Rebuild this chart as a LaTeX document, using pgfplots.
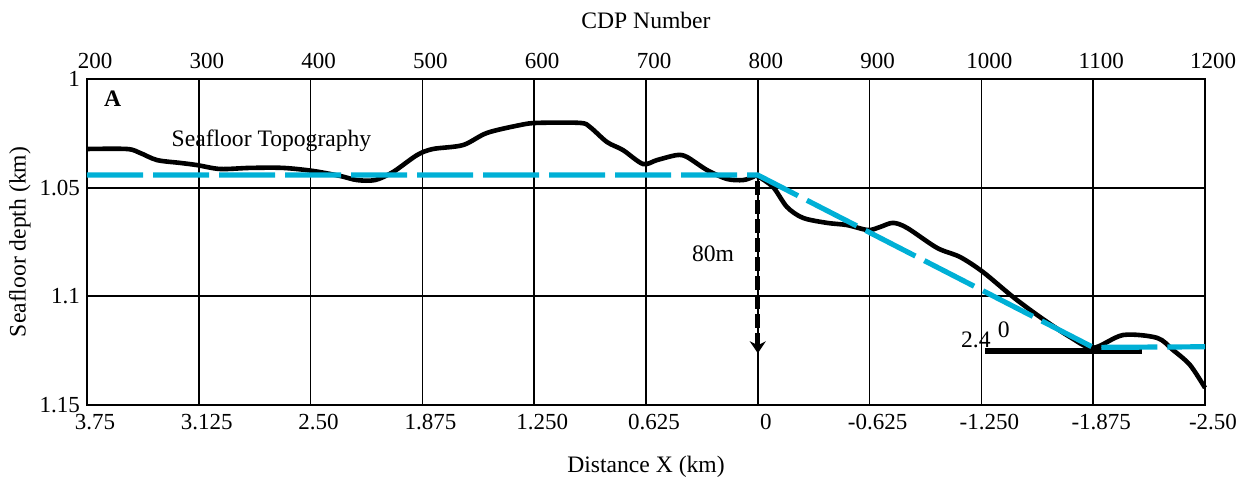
\documentclass[border=0pt]{standalone}
\usepackage{fontspec}
\setmainfont{Liberation Serif}
\usepackage{pgfplots}
\pgfplotsset{compat=1.18}
\usetikzlibrary{arrows.meta}
\definecolor{slopecyan}{RGB}{0,176,214}

\begin{document}
\begin{tikzpicture}[x=1pt,y=1pt]
\useasboundingbox (-43.5,-41.5) rectangle (582.5,202.5);

% Main axis: distance along the bottom, depth on the left
\begin{axis}[
  at={(0,0)}, anchor=south west,
  width=559pt, height=163pt, scale only axis,
  xmin=200, xmax=1200, ymin=1, ymax=1.15, y dir=reverse,
  xtick={200,300,...,1200},
  xticklabels={3.75,3.125,2.50,1.875,1.250,0.625,0,-0.625,-1.250,-1.875,-2.50},
  ytick={1,1.05,1.1,1.15},
  yticklabels={1,1.05,1.1,1.15},
  xticklabel pos=lower,
  grid=major,
  major grid style={black, line width=0.85pt},
  axis line style={black, line width=0.9pt},
  major tick length=0pt,
  font=\fontsize{11.8}{14}\selectfont,
  tick label style={font=\fontsize{11.5}{14}\selectfont},
  xticklabel style={xshift=4pt, yshift=-1pt},
  /pgf/number format/assume math mode=true,
  xlabel={Distance X (km)},
  ylabel={Seafloor depth (km)},
  xlabel style={at={(axis description cs:0.5,-0.19)}, anchor=center},
  ylabel style={at={(axis description cs:-0.06,0.5)}, anchor=center},
  clip=false,
]

% Seafloor topography
\addplot[black, line width=2.3pt, smooth] coordinates {
  (200,1.0322) (235.8,1.0322) (247.4,1.0340) (262.6,1.0373) (283.2,1.0386)
  (298.4,1.0396) (319.0,1.0414) (345.8,1.0409) (375.3,1.0409) (402.1,1.0423)
  (426.3,1.0446) (441.5,1.0465) (457.6,1.0465) (473.7,1.0428) (495.2,1.0350)
  (509.5,1.0322) (536.3,1.0304) (557.8,1.0248) (587.3,1.0212) (602.5,1.0202)
  (641.0,1.0202) (649.9,1.0221) (665.1,1.0290) (679.4,1.0327) (697.3,1.0391)
  (709.8,1.0373) (727.7,1.0350) (736.7,1.0359) (754.6,1.0419) (772.5,1.0460)
  (786.8,1.0465) (795.7,1.0451) (799.3,1.0446) (813.6,1.0497) (826.1,1.0589)
  (840.4,1.0639) (861.9,1.0662) (879.8,1.0672) (898.6,1.0695) (909.3,1.0681)
  (920.9,1.0662) (933.5,1.0685) (960.3,1.0777) (980.9,1.0819) (1001.4,1.0888)
  (1028.3,1.1003) (1052.4,1.1095) (1079.2,1.1187) (1099.8,1.1237) (1126.7,1.1178)
  (1157.1,1.1191) (1171.4,1.1247) (1186.6,1.1316) (1200,1.1421)
};

% Horizontal reference for the slope angle
\addplot[black, line width=3.2pt] coordinates {(1003,1.1251) (1144,1.1251)};

% Interpreted shelf and slope
\addplot[slopecyan, line width=2.6pt, dash pattern=on 28pt off 5pt] coordinates {
  (200,1.0442) (800,1.0442) (1100,1.1235) (1200,1.1232)
};

% Relief of the shelf break
\addplot[black, line width=2.6pt, dash pattern=on 7pt off 2.5pt,
  -{Stealth[length=6pt, width=8pt, inset=2pt]}] coordinates {
  (800,1.047) (800,1.1262)
};

\node at (axis cs:223,1.009) {\textbf{A}};
\node at (axis cs:365,1.0285) {Seafloor Topography};
\node at (axis cs:760,1.0805) {80m};
\node at (axis cs:995,1.1200) {2.4};
\node at (axis cs:1020,1.1155) {0};
\end{axis}

% CDP numbering along the top
\begin{axis}[
  at={(0,0)}, anchor=south west,
  width=559pt, height=163pt, scale only axis,
  xmin=200, xmax=1200, ymin=1, ymax=1.15, y dir=reverse,
  axis x line*=top, hide y axis,
  xtick={200,300,...,1200},
  xticklabels={200,300,400,500,600,700,800,900,1000,1100,1200},
  axis line style={black, line width=0.9pt},
  major tick length=0pt,
  font=\fontsize{11.8}{14}\selectfont,
  tick label style={font=\fontsize{11.5}{14}\selectfont},
  xticklabel style={xshift=4pt, yshift=1.5pt},
  /pgf/number format/assume math mode=true,
  xlabel={CDP Number},
  xlabel style={at={(axis description cs:0.5,1.181)}, anchor=center},
]
\end{axis}
\end{tikzpicture}
\end{document}
